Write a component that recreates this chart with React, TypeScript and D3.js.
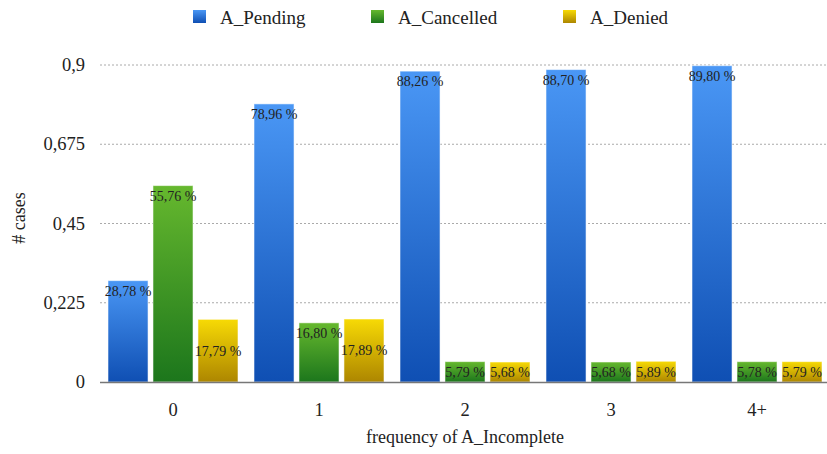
import React from "react";
import * as d3 from "d3";

const categories = ["0", "1", "2", "3", "4+"];
const seriesNames = ["A_Pending", "A_Cancelled", "A_Denied"];
const pending = [0.2878, 0.7896, 0.8826, 0.887, 0.898];
const cancelled = [0.5576, 0.168, 0.0579, 0.0568, 0.0578];
const denied = [0.1779, 0.1789, 0.0568, 0.0589, 0.0579];
const yTicks = [0, 0.225, 0.45, 0.675, 0.9];

const gradients = [
  { id: "gBlue", top: "#4a97f5", bottom: "#0f4fb3" },
  { id: "gGreen", top: "#66b82e", bottom: "#1c761c" },
  { id: "gYellow", top: "#f7da05", bottom: "#ad8600" },
];

const W = 827;
const H = 454;
const left = 100;
const right = 830;
const top = 65;
const bottom = 382;
const font = '"Liberation Serif", "DejaVu Serif", "Noto Serif", Tinos, serif';
const ts = { fontFamily: font };

const fmtNum = (v: number) => v.toString().replace(".", ",");
const fmtPct = (v: number) => (v * 100).toFixed(2).replace(".", ",") + " %";

export default function App() {
  const series = [pending, cancelled, denied];
  const x0 = d3.scaleBand<string>().domain(categories).range([left, right]);
  const x1 = d3
    .scaleBand<number>()
    .domain([0, 1, 2])
    .range([8, x0.bandwidth() - 8])
    .paddingInner(0.11);
  const y = d3.scaleLinear().domain([0, 0.9]).range([bottom, top]);

  const legendX = [193, 371, 563];

  return (
    <svg
      width={W}
      height={H}
      style={{ position: "absolute", left: 0, top: 0, background: "#fff", fontFamily: font }}
    >
      <defs>
        {gradients.map((g) => (
          <linearGradient key={g.id} id={g.id} x1="0" y1="0" x2="0" y2="1">
            <stop offset="0%" stopColor={g.top} />
            <stop offset="100%" stopColor={g.bottom} />
          </linearGradient>
        ))}
      </defs>

      {/* legend */}
      {seriesNames.map((name, i) => (
        <g key={name}>
          <rect
            x={legendX[i]}
            y={10}
            width={13}
            height={13}
            fill={`url(#${gradients[i].id})`}
          />
          <text x={legendX[i] + 27} y={24} fontSize={19} fill="#222" style={ts}>
            {name}
          </text>
        </g>
      ))}

      {/* grid */}
      {yTicks.map((t) =>
        t === 0 ? null : (
          <line
            key={t}
            x1={left}
            x2={W}
            y1={y(t)}
            y2={y(t)}
            stroke="#aaa"
            strokeWidth={1}
            strokeDasharray="2,2"
          />
        )
      )}
      {yTicks.map((t) => (
        <text
          key={"l" + t}
          x={85}
          y={y(t) + 6}
          textAnchor="end"
          fontSize={18.5}
          fill="#222"
          style={ts}
        >
          {fmtNum(t)}
        </text>
      ))}

      {/* bars */}
      {categories.map((c, ci) => (
        <g key={c} transform={`translate(${x0(c)},0)`}>
          {series.map((s, si) => {
            const v = s[ci];
            const bx = x1(si)!;
            const bw = x1.bandwidth();
            const yt = y(v);
            const h = bottom - yt;
            const ly = si === 2 ? yt + h / 2 + 5 : yt + 15;
            return (
              <g key={si}>
                <rect
                  x={bx}
                  y={yt}
                  width={bw}
                  height={h}
                  fill={`url(#${gradients[si].id})`}
                  stroke="rgba(255,255,255,0.55)"
                  strokeWidth={1}
                />
                <text
                  x={bx + bw / 2}
                  y={ly}
                  textAnchor="middle"
                  fontSize={14}
                  fill="#222"
                  style={ts}
                >
                  {fmtPct(v)}
                </text>
              </g>
            );
          })}
          <text
            x={x0.bandwidth() / 2}
            y={416}
            textAnchor="middle"
            fontSize={18.5}
            fill="#222"
            style={ts}
          >
            {c}
          </text>
        </g>
      ))}

      {/* baseline */}
      <line x1={left} x2={W} y1={bottom + 0.5} y2={bottom + 0.5} stroke="#777" strokeWidth={1.5} />

      {/* axis titles */}
      <text
        transform={`translate(25,218) rotate(-90)`}
        textAnchor="middle"
        fontSize={18}
        fill="#222"
        style={ts}
      >
        # cases
      </text>
      <text x={465} y={443} textAnchor="middle" fontSize={18} fill="#222" style={ts}>
        frequency of A_Incomplete
      </text>
    </svg>
  );
}
